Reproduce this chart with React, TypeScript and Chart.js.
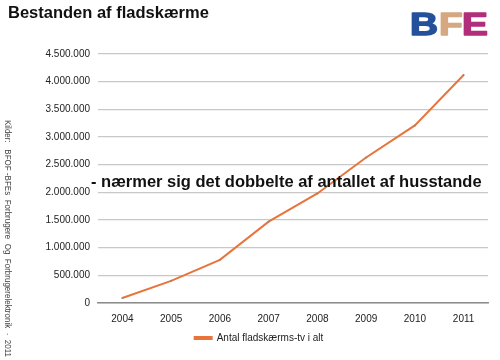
import React, { useEffect, useRef } from "react";
import { Chart, registerables } from "chart.js";

Chart.register(...registerables);

const years = ["2004", "2005", "2006", "2007", "2008", "2009", "2010", "2011"];
const flatScreens = [90000, 400000, 780000, 1470000, 1980000, 2630000, 3210000, 4120000];
const seriesLabel = "Antal fladskærms-tv i alt";
const titleText = "Bestanden af fladskærme";
const noteText = "- nærmer sig det dobbelte af antallet af husstande";
const sourceText = "Kilder:   BFOF -BFEs  Forbrugere  Og  Forbrugerelektronik  ·  2011";
const yMax = 4500000;
const yStep = 500000;

const fmt = (v: number) => String(Math.round(v)).replace(/\B(?=(\d{3})+(?!\d))/g, ".");

const decor = {
  id: "decor",
  afterDraw(chart: any) {
    const ctx = chart.ctx as CanvasRenderingContext2D;
    ctx.save();
    // title
    ctx.fillStyle = "#111";
    ctx.font = "bold 16.5px 'Liberation Sans', Arial, sans-serif";
    ctx.textBaseline = "alphabetic";
    ctx.textAlign = "left";
    ctx.fillText(titleText, 8, 18);
    // logo
    const letters: [string, string, number][] = [
      ["B", "#24509c", 410],
      ["F", "#d6a882", 439],
      ["E", "#b12f7a", 462],
    ];
    ctx.font = "900 31px 'Liberation Sans', Arial, sans-serif";
    ctx.lineJoin = "round";
    for (const [ch, col, x] of letters) {
      ctx.save();
      ctx.translate(x, 35);
      ctx.scale(1.25, 1);
      ctx.fillStyle = col;
      ctx.strokeStyle = col;
      ctx.lineWidth = 1.5;
      ctx.fillText(ch, 0, 0);
      ctx.strokeText(ch, 0, 0);
      ctx.restore();
    }
    // annotation
    ctx.fillStyle = "#111";
    ctx.font = "bold 16.5px 'Liberation Sans', Arial, sans-serif";
    ctx.fillText(noteText, 91, 187);
    // rotated source text
    ctx.translate(7, 120);
    ctx.rotate(Math.PI / 2);
    ctx.font = "8.5px 'Liberation Sans', Arial, sans-serif";
    ctx.fillStyle = "#444";
    ctx.textBaseline = "middle";
    const w = ctx.measureText(sourceText).width;
    ctx.scale(237 / w, 1);
    ctx.fillText(sourceText, 0, 0);
    ctx.restore();
  },
};

export default function App() {
  const ref = useRef<HTMLCanvasElement>(null);
  useEffect(() => {
    if (!ref.current) return;
    const chart = new Chart(ref.current, {
      type: "line",
      data: {
        labels: years,
        datasets: [
          {
            label: seriesLabel,
            data: flatScreens,
            borderColor: "#e8743b",
            backgroundColor: "#e8743b",
            borderWidth: 2,
            pointRadius: 1,
            pointBackgroundColor: "#8a8a8a",
            pointBorderWidth: 0,
            tension: 0,
          },
        ],
      },
      options: {
        responsive: false,
        animation: false,
        devicePixelRatio: 1,
        layout: { padding: { left: 30, top: 54, right: 12, bottom: 7 } },
        plugins: {
          legend: {
            position: "bottom",
            labels: {
              boxWidth: 17,
              boxHeight: 2,
              padding: 5,
              color: "#222",
              font: { family: "'Liberation Sans', Arial, sans-serif", size: 10 },
            },
          },
          tooltip: { enabled: false },
        },
        scales: {
          x: {
            offset: true,
            afterFit: (s: any) => {
              s.height = s.height - 7;
            },
            grid: { display: false, drawTicks: false },
            border: { display: true, color: "#8c8c8c", width: 1.5 },
            ticks: {
              padding: 10,
              color: "#222",
              font: { family: "'Liberation Sans', Arial, sans-serif", size: 10 },
            },
          },
          y: {
            min: 0,
            max: yMax,
            afterFit: (s: any) => {
              s.width = 68;
            },
            grid: { color: "#c8c8c8", lineWidth: 1.2, drawTicks: false },
            border: { display: false },
            ticks: {
              stepSize: yStep,
              padding: 8,
              color: "#222",
              font: { family: "'Liberation Sans', Arial, sans-serif", size: 10 },
              callback: (v: any) => fmt(Number(v)),
            },
          },
        },
      },
      plugins: [decor],
    });
    return () => chart.destroy();
  }, []);
  return (
    <div style={{ position: "absolute", left: 0, top: 0, width: 500, height: 360, background: "#fff" }}>
      <canvas ref={ref} width={500} height={360} />
    </div>
  );
}
